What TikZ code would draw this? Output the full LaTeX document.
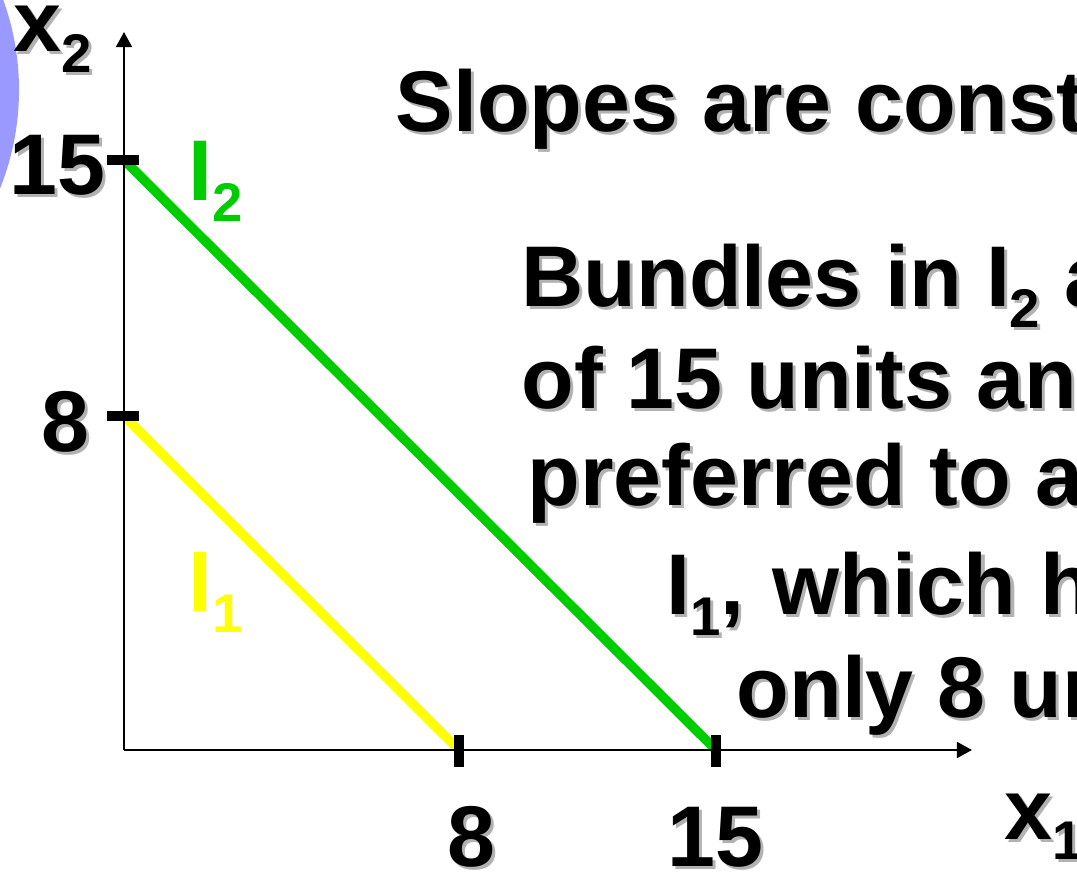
\documentclass[tikz,border=0pt]{standalone}
\usepackage{fontspec}
\setmainfont{Liberation Sans}
\usepackage{xcolor}
\usetikzlibrary{arrows.meta}
\definecolor{slideGreen}{RGB}{0,204,0}
\definecolor{slideYellow}{RGB}{255,255,0}
\definecolor{slidePurple}{RGB}{153,153,255}
\definecolor{shadowGray}{RGB}{178,178,178}
\newcommand{\lowsub}[1]{\raisebox{-0.24em}{\fontsize{15.5}{15.5}\selectfont #1}}
\newcommand{\withshadow}[1]{\leavevmode\rlap{\hspace{0.03cm}\raisebox{-0.03cm}{\color{shadowGray}#1}}#1}

\begin{document}
\begin{tikzpicture}[x=0.01cm, y=-0.01cm,
    every node/.style={inner sep=0pt, font=\fontsize{24.5}{29}\selectfont\bfseries},
    axisline/.style={black, line width=0.7pt, -{Triangle[length=4.3pt,width=4.5pt]}},
    tickmark/.style={black, line width=2.9pt},
    indiff/.style={line width=2.7pt}]
    \useasboundingbox (0,0) rectangle (1077,874);
    \clip (0,0) rectangle (1077,874);

    % slide decoration at the left edge
    \fill[slidePurple] (-245,90) circle (264);

    % points on the axes
    \coordinate (O) at (124,750);
    \coordinate (ytip) at (124,32);
    \coordinate (xtip) at (972,750);
    \coordinate (y15) at (124,160);
    \coordinate (y8) at (124,416);
    \coordinate (x8) at (459,750);
    \coordinate (x15) at (716,750);

    % indifference curves x1 + x2 = const
    \draw[indiff, slideGreen] (y15) -- (x15);
    \draw[indiff, slideYellow] (y8) -- (x8);

    % axes
    \draw[axisline] (O) -- (ytip);
    \draw[axisline] (O) -- (xtip);

    % ticks
    \draw[tickmark] ([xshift=-0.17cm]y15) -- ([xshift=0.15cm]y15);
    \draw[tickmark] ([xshift=-0.17cm]y8) -- ([xshift=0.15cm]y8);
    \draw[tickmark] ([yshift=0.15cm]x8) -- ([yshift=-0.17cm]x8);
    \draw[tickmark] ([yshift=0.15cm]x15) -- ([yshift=-0.17cm]x15);

    % axis labels
    \node[anchor=base west] (xtwo) at (13,52) {\withshadow{x\lowsub{2}}};
    \node[anchor=base west] (xone) at (1004,839) {\withshadow{x\lowsub{1}}};
    \node[anchor=base east] (ylab15) at (106,195) {\withshadow{15}};
    \node[anchor=base east] (ylab8) at (90,452) {\withshadow{8}};
    \node[anchor=base] (xlab8) at (471,866) {\withshadow{8}};
    \node[anchor=base] (xlab15) at (715,866) {\withshadow{15}};

    % curve names
    \node[anchor=base west, text=slideGreen] (Itwo) at (188,201) {I\lowsub{2}};
    \node[anchor=base west, text=slideYellow] (Ione) at (188,612) {I\lowsub{1}};

    % slide text, cut off at the right edge
    \node[anchor=base west] (title) at (395,132) {\withshadow{Slopes are const}};
    \node[anchor=base west] (lineA) at (521,307) {\withshadow{Bundles in I\lowsub{2} a}};
    \node[anchor=base west] (lineB) at (521,409) {\withshadow{of 15 units and}};
    \node[anchor=base west] (lineC) at (527,506) {\withshadow{preferred to a}};
    \node[anchor=base west] (lineD) at (666,615) {\withshadow{I\lowsub{1},\hspace{0.32em}which h}};
    \node[anchor=base west] (lineE) at (736,717) {\withshadow{only 8 un}};
\end{tikzpicture}
\end{document}
